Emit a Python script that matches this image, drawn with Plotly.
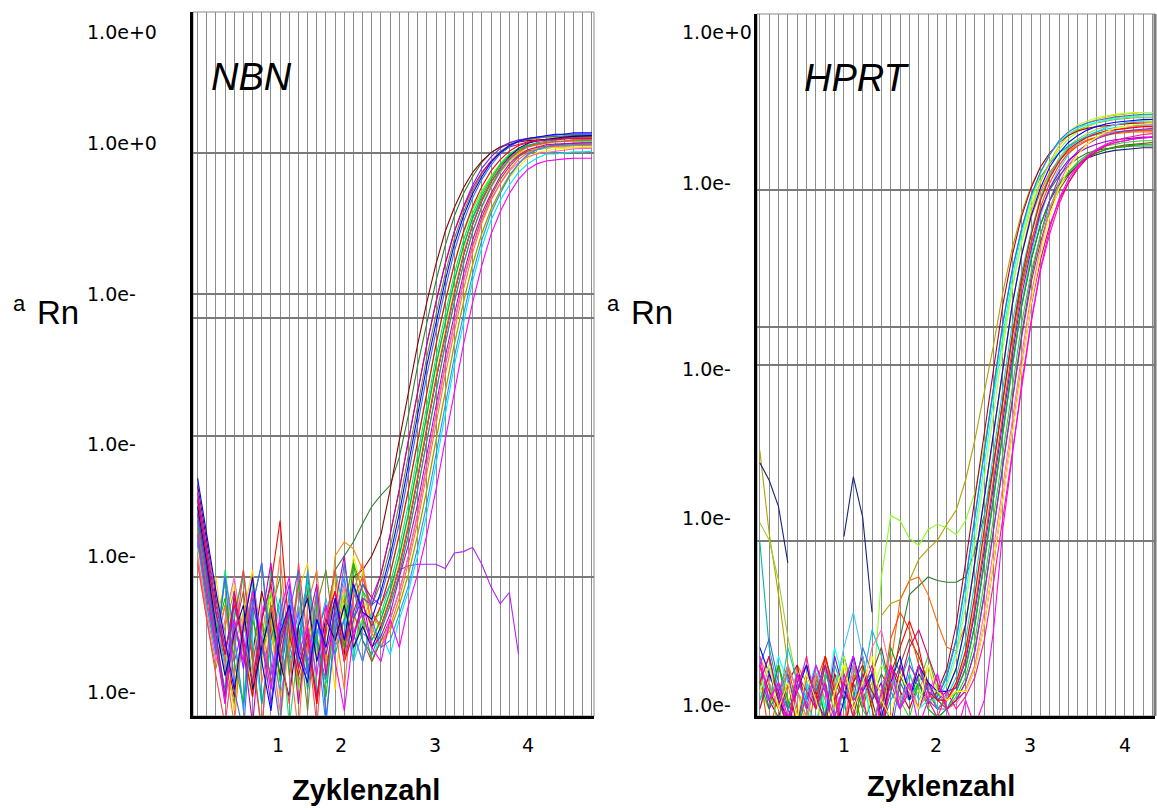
import plotly.graph_objects as go

W, H = 1157, 808

# ---------------- axes / labels ----------------
nbn_cycles = list(range(4, 48))        # 44 cycles plotted in the NBN panel
hprt_cycles = list(range(1, 44))       # 43 cycles plotted in the HPRT panel
nbn_outlier_cycles = list(range(4, 40))

nbn_tick_vals = [12.8, 19.6, 29.9, 40.04]
hprt_tick_vals = [10.03, 19.8, 29.9, 40.05]
x_tick_text = ["1", "2", "3", "4"]

nbn_grid_vals = [-3.0, -2.0, -1.16, -0.99, 0.01]
hprt_grid_vals = [-1.994, -0.994, -0.778, 0.0]

nbn_ylabel_vals = [0.865, 0.078, -0.993, -2.057, -2.851, -3.816]
nbn_ylabel_text = ["1.0e+0", "1.0e+0", "1.0e-", "1.0e-", "1.0e-", "1.0e-"]
hprt_ylabel_vals = [0.898, 0.04, -1.017, -1.864, -2.926]
hprt_ylabel_text = ["1.0e+0", "1.0e-", "1.0e-", "1.0e-", "1.0e-"]

# ---------------- NBN curves (log10 ΔRn, cycles 4..47) ----------------
nbn_red = [-2.45,-2.85,-3.25,-3.55,-3.15,-3.5,-3.85,-3.3,-3.05,-2.6,-3.4,-3.7,-3.45,-3.9,-3.3,-3.1,-3.6,-3.4,-3.2,-3.35,
           -3.2,-2.98,-2.7,-2.38,-2.03,-1.68,-1.35,-1.05,-0.78,-0.55,-0.37,-0.23,-0.12,-0.04,0.02,0.06,0.08,0.09,0.1,0.11,0.115,0.12,0.12,0.12]
nbn_blue = [-2.3,-2.7,-3.1,-3.45,-3.8,-3.35,-3.0,-3.6,-3.95,-3.4,-3.2,-3.55,-3.75,-3.3,-3.5,-3.15,-3.45,-3.05,-3.25,-3.3,
            -3.1,-2.85,-2.55,-2.2,-1.85,-1.5,-1.2,-0.9,-0.64,-0.44,-0.28,-0.16,-0.06,0.01,0.06,0.09,0.11,0.12,0.13,0.14,0.14,0.15,0.15,0.15]
nbn_green = [-2.6,-3.0,-3.4,-3.15,-3.6,-3.9,-3.3,-3.55,-3.2,-3.75,-3.45,-3.05,-3.65,-3.4,-3.85,-3.2,-3.5,-2.9,-3.3,-3.45,
             -3.3,-3.1,-2.85,-2.55,-2.2,-1.85,-1.5,-1.2,-0.9,-0.65,-0.45,-0.3,-0.18,-0.08,-0.01,0.03,0.06,0.07,0.08,0.09,0.09,0.1,0.1,0.1]
nbn_magenta = [-2.7,-3.1,-3.5,-3.9,-3.3,-3.6,-3.1,-3.45,-3.8,-3.25,-3.0,-3.55,-3.35,-3.7,-3.2,-3.6,-3.95,-3.4,-3.25,-3.5,
               -3.6,-3.3,-3.5,-3.2,-2.98,-2.7,-2.38,-2.03,-1.68,-1.35,-1.05,-0.79,-0.57,-0.41,-0.28,-0.18,-0.11,-0.07,-0.05,-0.04,-0.035,-0.03,-0.03,-0.03]
nbn_cyan = [-2.5,-2.95,-3.35,-3.7,-3.25,-3.0,-3.45,-3.9,-3.5,-3.2,-3.65,-3.3,-3.05,-3.5,-3.75,-3.35,-3.1,-3.55,-3.3,-3.6,
            -3.4,-3.55,-3.3,-3.1,-2.85,-2.55,-2.2,-1.85,-1.5,-1.2,-0.9,-0.66,-0.47,-0.33,-0.22,-0.13,-0.07,-0.03,0.0,0.0,0.01,0.015,0.015,0.02]
nbn_yellow = [-2.8,-3.2,-3.6,-3.3,-3.05,-3.5,-3.8,-3.4,-3.15,-3.6,-3.35,-3.9,-3.45,-3.2,-3.55,-3.0,-3.3,-2.85,-3.1,-3.4,
              -3.5,-3.38,-3.2,-2.98,-2.7,-2.38,-2.03,-1.68,-1.35,-1.05,-0.79,-0.57,-0.4,-0.27,-0.17,-0.09,-0.03,0.01,0.025,0.035,0.04,0.045,0.05,0.05]
nbn_orange = [-2.65,-3.05,-3.45,-3.2,-3.7,-3.4,-3.1,-3.55,-3.3,-3.85,-3.5,-3.2,-3.45,-3.1,-3.6,-2.85,-2.75,-2.8,-2.95,-3.25,
              -3.38,-3.2,-2.98,-2.7,-2.38,-2.03,-1.68,-1.35,-1.05,-0.78,-0.55,-0.38,-0.24,-0.13,-0.05,0.01,0.05,0.065,0.075,0.085,0.09,0.095,0.1,0.1]
nbn_purple = [-2.4,-2.8,-3.2,-3.5,-3.3,-3.65,-3.2,-3.45,-3.9,-3.35,-3.05,-3.5,-3.7,-3.3,-3.55,-3.25,-3.6,-3.3,-3.15,-3.2,
              -2.98,-2.7,-2.38,-2.03,-1.68,-1.35,-1.05,-0.78,-0.55,-0.37,-0.22,-0.1,-0.02,0.04,0.08,0.1,0.11,0.12,0.13,0.135,0.14,0.14,0.14,0.14]
nbn_darkgreen = [-2.55,-2.9,-3.3,-3.6,-3.9,-3.4,-3.15,-3.5,-3.25,-3.7,-3.3,-3.45,-3.1,-3.55,-3.3,-2.95,-2.85,-2.75,-2.62,-2.5,
                 -2.42,-2.35,-2.15,-1.85,-1.5,-1.2,-0.9,-0.65,-0.44,-0.28,-0.16,-0.06,0.01,0.05,0.08,0.095,0.105,0.115,0.12,0.125,0.13,0.13,0.13,0.13]
nbn_brown = [-2.75,-3.15,-3.5,-3.85,-3.4,-3.1,-3.6,-3.3,-3.75,-3.45,-3.2,-3.65,-3.35,-3.9,-3.4,-3.15,-3.5,-3.25,-3.45,-3.6,
             -3.45,-3.3,-3.1,-2.85,-2.55,-2.2,-1.85,-1.5,-1.2,-0.9,-0.65,-0.45,-0.3,-0.18,-0.09,-0.02,0.02,0.045,0.055,0.065,0.07,0.075,0.08,0.08]
nbn_navy = [-2.5,-2.9,-3.35,-3.7,-3.4,-3.2,-3.8,-3.5,-3.25,-3.6,-3.85,-3.35,-3.15,-3.6,-3.3,-3.45,-3.2,-3.5,-3.35,-3.5,
            -3.35,-3.16,-2.93,-2.64,-2.3,-1.96,-1.6,-1.29,-0.99,-0.72,-0.5,-0.33,-0.2,-0.1,-0.02,0.04,0.075,0.095,0.105,0.115,0.12,0.125,0.13,0.13]
nbn_pink = [-2.85,-3.25,-3.6,-3.3,-3.0,-3.45,-3.75,-3.2,-3.5,-3.95,-3.4,-3.1,-3.55,-3.25,-3.7,-3.3,-3.05,-3.4,-3.6,-3.35,
            -3.5,-3.3,-3.1,-2.85,-2.55,-2.2,-1.85,-1.5,-1.2,-0.9,-0.66,-0.47,-0.32,-0.21,-0.12,-0.06,-0.02,0.0,0.01,0.02,0.03,0.035,0.04,0.04]
nbn_lime = [-2.6,-2.95,-3.3,-3.05,-3.5,-3.25,-3.7,-3.4,-3.1,-3.55,-3.3,-3.8,-3.45,-3.2,-3.65,-3.35,-3.1,-3.5,-3.3,-3.4,
            -3.2,-2.98,-2.7,-2.38,-2.03,-1.68,-1.35,-1.05,-0.78,-0.56,-0.39,-0.26,-0.16,-0.08,-0.03,0.01,0.03,0.045,0.055,0.065,0.07,0.075,0.08,0.08]
nbn_maroon = [-2.35,-2.75,-3.15,-3.5,-3.85,-3.3,-3.55,-3.1,-3.4,-3.7,-3.25,-3.5,-3.0,-3.45,-3.75,-3.3,-3.55,-3.0,-2.95,-2.85,
              -2.7,-2.38,-2.03,-1.68,-1.35,-1.05,-0.78,-0.55,-0.38,-0.24,-0.13,-0.05,0.01,0.05,0.07,0.085,0.095,0.1,0.105,0.11,0.11,0.11,0.11,0.11]
nbn_teal = [-2.7,-3.1,-3.45,-3.8,-3.35,-3.6,-3.2,-3.9,-3.45,-3.15,-3.6,-3.35,-3.8,-3.4,-3.2,-3.55,-3.3,-3.05,-3.45,-3.55,
            -3.38,-3.2,-2.98,-2.7,-2.38,-2.03,-1.68,-1.35,-1.05,-0.78,-0.55,-0.37,-0.23,-0.12,-0.04,0.02,0.06,0.08,0.09,0.1,0.11,0.115,0.12,0.12]
nbn_olive = [-2.9,-3.3,-3.65,-3.35,-3.1,-3.55,-3.85,-3.45,-3.2,-3.6,-3.3,-3.75,-3.5,-3.25,-3.6,-3.4,-3.15,-3.5,-3.3,-3.6,
             -3.45,-3.38,-3.2,-2.98,-2.7,-2.38,-2.03,-1.68,-1.35,-1.05,-0.78,-0.56,-0.39,-0.26,-0.15,-0.07,-0.01,0.03,0.045,0.055,0.06,0.065,0.07,0.07]
nbn_sky = [-2.55,-2.95,-3.3,-3.65,-3.2,-3.5,-3.1,-3.4,-3.8,-3.35,-3.55,-3.2,-3.7,-3.45,-3.15,-3.5,-3.3,-3.6,-3.4,-3.45,
           -3.3,-3.1,-2.85,-2.55,-2.2,-1.85,-1.5,-1.2,-0.9,-0.66,-0.46,-0.32,-0.2,-0.11,-0.05,-0.01,0.02,0.03,0.04,0.05,0.05,0.06,0.06,0.06]
nbn_deeppink = [-2.45,-2.85,-3.25,-3.55,-3.2,-3.45,-3.75,-3.3,-3.05,-3.5,-3.2,-3.65,-3.4,-3.85,-3.35,-3.1,-3.45,-3.25,-3.05,-3.15,
                -2.98,-2.7,-2.38,-2.03,-1.68,-1.35,-1.05,-0.78,-0.55,-0.38,-0.24,-0.13,-0.05,0.01,0.05,0.07,0.085,0.095,0.1,0.105,0.11,0.11,0.11,0.11]
nbn_coral = [-2.9,-3.3,-3.7,-4.05,-3.5,-2.95,-3.6,-4.1,-3.2,-3.5,-3.9,-2.9,-3.45,-4.05,-3.3,-2.95,-3.6,-3.15,-3.0,-3.25,
             -3.35,-3.16,-2.93,-2.64,-2.3,-1.96,-1.6,-1.29,-0.99,-0.72,-0.5,-0.33,-0.2,-0.1,-0.03,0.02,0.05,0.07,0.08,0.09,0.09,0.1,0.1,0.1]
nbn_royal = [-2.6,-3.0,-3.5,-3.0,-3.8,-4.1,-3.2,-2.9,-3.6,-4.05,-3.25,-2.95,-3.7,-3.1,-4.0,-3.4,-2.9,-3.3,-3.05,-3.2,
             -3.14,-2.9,-2.62,-2.27,-1.92,-1.57,-1.26,-0.96,-0.69,-0.48,-0.31,-0.18,-0.08,0.0,0.05,0.09,0.11,0.12,0.13,0.135,0.14,0.14,0.14,0.14]
nbn_tangerine = [-2.4,-2.8,-3.1,-3.6,-4.05,-3.3,-3.0,-3.75,-3.4,-2.85,-3.55,-4.1,-3.2,-2.95,-3.65,-3.35,-3.8,-3.1,-2.9,-3.4,
                 -3.5,-3.35,-3.15,-2.9,-2.61,-2.27,-1.92,-1.57,-1.26,-0.96,-0.7,-0.49,-0.33,-0.21,-0.11,-0.04,0.01,0.035,0.05,0.055,0.06,0.06,0.06,0.06]
nbn_spring = [-2.7,-3.15,-3.55,-2.95,-3.45,-3.9,-3.05,-3.65,-2.95,-3.3,-4.05,-3.5,-3.0,-3.85,-3.4,-2.95,-3.25,-3.6,-3.1,-3.3,
              -3.26,-3.05,-2.79,-2.48,-2.13,-1.78,-1.44,-1.14,-0.85,-0.61,-0.42,-0.28,-0.16,-0.07,0.0,0.04,0.06,0.07,0.08,0.085,0.09,0.09,0.09,0.09]
nbn_plum = [-2.55,-2.95,-3.4,-3.85,-3.1,-3.5,-4.05,-3.3,-2.9,-3.6,-3.2,-3.9,-3.35,-3.05,-3.7,-3.2,-2.85,-3.45,-3.15,-3.5,
            -3.42,-3.26,-3.0,-2.77,-2.48,-2.13,-1.78,-1.44,-1.14,-0.85,-0.61,-0.42,-0.28,-0.16,-0.07,-0.01,0.03,0.05,0.065,0.07,0.075,0.08,0.08,0.08]
nbn_olivedrab = [-2.65,-3.05,-3.45,-3.9,-3.3,-2.95,-3.55,-4.1,-3.25,-3.0,-3.7,-3.35,-3.95,-3.2,-2.95,-3.45,-3.2,-2.9,-3.1,-3.2,
                 -3.04,-2.79,-2.48,-2.13,-1.78,-1.44,-1.14,-0.85,-0.6,-0.41,-0.26,-0.14,-0.05,0.02,0.06,0.09,0.105,0.115,0.12,0.12,0.12,0.12,0.12,0.12]
nbn_gold = [-2.85,-3.25,-3.0,-3.5,-3.95,-3.25,-2.95,-3.6,-3.3,-4.05,-3.45,-3.1,-2.9,-3.55,-3.25,-3.8,-3.05,-3.35,-2.95,-3.4,
            -3.34,-3.14,-2.9,-2.61,-2.27,-1.92,-1.57,-1.26,-0.96,-0.7,-0.49,-0.34,-0.22,-0.12,-0.05,0.0,0.03,0.04,0.045,0.05,0.05,0.05,0.05,0.05]
nbn_dodger = [-2.75,-3.2,-3.55,-3.0,-3.4,-3.95,-3.2,-2.9,-3.5,-3.8,-3.1,-3.6,-2.95,-3.45,-4.05,-3.3,-3.0,-3.4,-3.6,-3.3,
              -3.5,-3.45,-3.26,-3.06,-2.79,-2.48,-2.13,-1.78,-1.44,-1.14,-0.85,-0.61,-0.42,-0.28,-0.16,-0.07,0.0,0.03,0.05,0.06,0.065,0.07,0.07,0.07]
nbn_violet_outlier = [-2.75,-3.1,-3.5,-3.2,-3.6,-3.35,-3.0,-3.45,-3.7,-3.3,-3.55,-3.25,-3.6,-3.4,-3.2,-3.45,-3.3,-3.05,-3.3,-3.15,-3.2,-3.05,-2.95,-2.92,
                      -2.91,-2.91,-2.91,-2.94,-2.83,-2.82,-2.79,-2.91,-3.07,-3.19,-3.11,-3.55]

# ---------------- HPRT curves (log10 ΔRn, cycles 1..43) ----------------
hprt_red = [-2.7,-2.85,-2.95,-2.8,-3.05,-2.75,-2.9,-2.65,-2.85,-3.1,-2.8,-2.7,-2.95,-3.15,-2.75,-2.6,-2.45,-2.6,-2.85,-2.9,
            -2.9,-2.8,-2.62,-2.3,-1.93,-1.56,-1.19,-0.82,-0.5,-0.26,-0.06,0.07,0.16,0.23,0.27,0.3,0.32,0.335,0.343,0.35,0.355,0.36,0.36]
hprt_blue = [-2.6,-2.75,-2.9,-3.0,-2.85,-2.7,-2.95,-2.8,-3.1,-2.9,-2.65,-2.85,-2.75,-3.0,-2.8,-2.65,-2.9,-2.7,-2.8,-2.85,
             -2.85,-2.72,-2.47,-2.12,-1.75,-1.38,-1.0,-0.65,-0.37,-0.15,0.01,0.13,0.21,0.27,0.31,0.34,0.36,0.375,0.385,0.39,0.395,0.4,0.4]
hprt_green = [-2.8,-2.95,-2.7,-2.9,-3.1,-2.85,-2.75,-3.0,-2.8,-2.9,-3.2,-2.7,-2.85,-2.95,-2.6,-2.75,-2.9,-2.8,-2.95,-3.0,-2.95,
              -2.85,-2.72,-2.47,-2.12,-1.75,-1.38,-1.0,-0.66,-0.4,-0.2,-0.06,0.04,0.1,0.15,0.19,0.21,0.23,0.24,0.25,0.255,0.26,0.26]
hprt_magenta = [-2.65,-2.9,-2.8,-3.05,-2.75,-2.95,-2.7,-2.85,-3.0,-2.8,-2.65,-2.9,-3.1,-2.85,-2.7,-2.95,-2.8,-3.05,-2.9,-2.75,-2.95,-3.1,-2.9,-3.05,
                -2.9,-2.5,-1.92,-1.5,-1.1,-0.75,-0.45,-0.22,-0.05,0.06,0.14,0.19,0.23,0.255,0.27,0.28,0.29,0.295,0.3]
hprt_cyan = [-2.75,-2.9,-2.65,-2.8,-3.0,-2.85,-2.7,-2.95,-2.6,-2.8,-2.9,-2.75,-3.05,-2.85,-2.7,-2.9,-2.8,-2.95,-2.9,
             -2.9,-2.8,-2.62,-2.3,-1.93,-1.56,-1.19,-0.82,-0.5,-0.25,-0.04,0.1,0.2,0.27,0.32,0.35,0.37,0.385,0.395,0.405,0.41,0.415,0.42,0.42]
hprt_yellow = [-2.85,-2.7,-2.95,-2.8,-3.0,-2.75,-2.9,-3.1,-2.85,-2.7,-2.95,-2.8,-2.65,-2.9,-3.0,-2.75,-2.85,-2.95,-2.7,-2.85,-2.9,-2.85,
               -2.85,-2.72,-2.47,-2.12,-1.75,-1.38,-1.0,-0.65,-0.37,-0.15,0.01,0.12,0.2,0.26,0.3,0.33,0.35,0.36,0.37,0.375,0.38]
hprt_orange = [-2.9,-2.75,-2.85,-3.05,-2.7,-2.8,-2.95,-2.65,-2.85,-2.75,-3.0,-2.9,-2.8,-2.85,-2.7,-2.33,-2.22,-2.2,-2.3,-2.46,
               -2.6,-2.62,-2.47,-2.12,-1.75,-1.38,-1.0,-0.65,-0.37,-0.16,-0.01,0.1,0.17,0.22,0.26,0.285,0.3,0.31,0.32,0.325,0.33,0.33,0.33]
hprt_purple = [-2.7,-2.95,-2.85,-2.75,-3.0,-2.9,-2.7,-2.85,-3.1,-2.8,-2.65,-2.9,-2.75,-3.05,-2.85,-2.95,-2.7,-2.8,-2.9,-2.95,-2.95,
               -2.9,-2.8,-2.62,-2.3,-1.93,-1.56,-1.19,-0.82,-0.5,-0.26,-0.06,0.07,0.16,0.22,0.26,0.29,0.31,0.325,0.335,0.34,0.345,0.35]
hprt_darkgreen = [-2.8,-2.9,-2.7,-2.95,-2.85,-3.0,-2.75,-2.9,-2.8,-2.65,-2.85,-3.05,-2.9,-2.75,-2.85,-2.55,-2.3,-2.25,-2.2,-2.22,
                  -2.23,-2.23,-2.2,-2.05,-1.85,-1.56,-1.19,-0.84,-0.53,-0.3,-0.12,0.0,0.08,0.14,0.18,0.21,0.225,0.235,0.24,0.245,0.25,0.25,0.25]
hprt_maroon = [-2.75,-2.9,-3.0,-2.8,-2.7,-2.95,-2.85,-3.05,-2.75,-2.9,-2.8,-2.65,-2.9,-3.1,-2.7,-2.85,-2.95,-2.8,
               -2.92,-2.85,-2.72,-2.47,-2.12,-1.75,-1.38,-1.0,-0.65,-0.37,-0.15,0.01,0.13,0.21,0.27,0.31,0.335,0.35,0.36,0.365,0.37,0.375,0.38,0.38,0.38]
hprt_navy = [-1.55,-1.65,-1.8,-2.12,None,None,None,None,None,-1.97,-1.63,-1.86,-2.4,None,None,None,-2.9,-2.75,-2.85,-2.95,-2.9,
             -2.85,-2.72,-2.47,-2.12,-1.75,-1.38,-1.0,-0.66,-0.4,-0.2,-0.06,0.03,0.09,0.14,0.18,0.2,0.215,0.225,0.23,0.235,0.24,0.24]
hprt_pink = [-2.65,-2.8,-2.95,-2.7,-2.85,-3.0,-2.75,-2.9,-2.8,-3.05,-2.7,-2.85,-2.6,-2.5,-2.75,-2.9,-2.8,-2.95,-2.85,-2.75,-2.95,
             -2.92,-2.84,-2.7,-2.4,-2.05,-1.68,-1.31,-0.94,-0.6,-0.33,-0.11,0.04,0.14,0.21,0.26,0.3,0.32,0.34,0.35,0.36,0.365,0.37]
hprt_lime = [-2.85,-2.95,-2.7,-2.9,-3.0,-2.8,-2.75,-2.95,-2.85,-2.7,-2.9,-2.8,
             -2.95,-2.2,-1.85,-1.88,-1.98,-2.02,-1.93,-1.9,-1.92,-1.96,-1.88,-1.72,-1.45,-1.15,-0.85,-0.55,-0.3,-0.1,0.05,0.15,0.23,0.29,0.33,0.36,0.38,0.4,0.41,0.415,0.42,0.425,0.43]
hprt_olive = [-1.48,-1.95,-2.3,-2.7,-3.1,None,None,None,None,None,None,None,None,
              -2.42,-2.35,-2.33,-2.22,-2.1,-2.04,-1.99,-1.9,-1.82,-1.65,-1.42,-1.15,-0.88,-0.58,-0.33,-0.13,0.02,0.13,0.21,0.27,0.31,0.34,0.36,0.38,0.39,0.4,0.405,0.41,0.41,0.41]
hprt_teal = [-2.0,-2.6,-2.85,-2.95,-2.75,-2.9,-2.8,-3.0,-2.7,-2.85,-2.95,-2.8,-2.75,-3.05,-2.9,-2.8,-2.65,-2.85,-2.9,
             -2.88,-2.75,-2.55,-2.22,-1.86,-1.49,-1.12,-0.76,-0.46,-0.22,-0.04,0.07,0.15,0.21,0.25,0.28,0.3,0.315,0.325,0.33,0.335,0.34,0.34,0.34]
hprt_sky = [-2.9,-2.7,-2.85,-2.75,-3.0,-2.8,-2.95,-2.7,-2.85,-2.6,-2.4,-2.65,-2.9,-2.8,-2.75,-2.95,-2.85,-2.7,-2.9,-3.0,-2.95,
            -2.85,-2.72,-2.47,-2.12,-1.75,-1.38,-1.0,-0.65,-0.37,-0.15,0.01,0.12,0.2,0.26,0.3,0.33,0.355,0.37,0.38,0.39,0.395,0.4]
hprt_deeppink = [-2.8,-2.65,-2.9,-3.05,-2.75,-2.85,-2.95,-2.7,-2.9,-2.8,-3.0,-2.75,-2.85,-2.95,-2.7,-2.8,-2.6,-2.5,-2.65,-2.8,-2.95,-2.9,
                 -2.85,-2.72,-2.47,-2.12,-1.75,-1.38,-1.0,-0.66,-0.4,-0.2,-0.06,0.04,0.12,0.18,0.22,0.25,0.27,0.28,0.29,0.295,0.3]
hprt_gold = [-2.95,-2.8,-2.7,-2.9,-2.85,-3.05,-2.75,-2.8,-2.95,-2.7,-2.85,-2.9,-2.8,-3.0,-2.75,-2.85,-2.9,-2.8,-2.95,-2.85,
             -2.85,-2.72,-2.47,-2.12,-1.75,-1.38,-1.0,-0.65,-0.36,-0.13,0.04,0.16,0.25,0.31,0.35,0.38,0.4,0.415,0.425,0.43,0.435,0.44,0.44]
hprt_yellowgreen = [-1.89,-1.99,-2.22,-2.54,-2.8,-2.9,-2.75,-2.85,-3.0,-2.8,-2.7,-2.9,-2.85,-2.95,-2.75,-2.8,-2.9,-2.85,-2.7,-2.9,
                    -2.9,-2.8,-2.62,-2.3,-1.93,-1.56,-1.19,-0.82,-0.5,-0.25,-0.04,0.09,0.18,0.25,0.29,0.32,0.345,0.36,0.37,0.38,0.385,0.39,0.39]
hprt_orangered = [-2.75,-3.1,-2.85,-2.7,-2.95,-3.15,-2.8,-2.65,-2.9,-3.05,-2.75,-2.85,-3.2,-2.9,-2.55,-2.4,-2.5,-2.7,-2.85,-2.95,-2.9,
                  -2.82,-2.66,-2.37,-2.01,-1.64,-1.27,-0.9,-0.56,-0.31,-0.1,0.04,0.14,0.21,0.25,0.28,0.3,0.315,0.325,0.33,0.335,0.34,0.34]
hprt_royal = [-2.7,-2.55,-2.8,-2.95,-3.1,-2.75,-2.85,-2.7,-3.0,-2.8,-2.9,-2.6,-2.75,-2.95,-3.1,-2.8,-2.9,-2.7,-2.85,
              -2.88,-2.77,-2.56,-2.23,-1.86,-1.49,-1.12,-0.75,-0.45,-0.22,-0.03,0.1,0.2,0.28,0.33,0.36,0.38,0.395,0.405,0.415,0.42,0.425,0.43,0.43]
hprt_limegreen = [-2.9,-2.8,-3.05,-2.7,-2.85,-2.95,-3.1,-2.75,-2.9,-2.8,-2.7,-2.95,-3.05,-2.85,-2.75,-2.9,-3.0,-2.8,-2.65,-2.85,-2.95,
                  -2.88,-2.77,-2.56,-2.23,-1.86,-1.49,-1.12,-0.76,-0.47,-0.26,-0.1,0.02,0.1,0.16,0.2,0.23,0.25,0.26,0.27,0.275,0.28,0.28]
hprt_rose = [-2.7,-2.9,-2.8,-3.0,-2.85,-2.65,-2.95,-2.8,-3.1,-2.75,-2.9,-2.85,-2.7,-3.05,-2.8,-2.95,-2.85,-2.7,-2.9,-3.0,-2.85,-2.95,
             -2.88,-2.77,-2.56,-2.23,-1.86,-1.49,-1.12,-0.76,-0.46,-0.25,-0.08,0.04,0.13,0.19,0.23,0.26,0.28,0.295,0.305,0.315,0.32]
hprt_turquoise = [-2.85,-2.7,-2.95,-2.6,-2.8,-2.9,-3.05,-2.75,-2.85,-2.95,-2.7,-2.8,-2.5,-2.65,-2.85,-2.95,-2.75,-2.9,-2.8,-2.95,
                  -2.88,-2.77,-2.56,-2.23,-1.86,-1.49,-1.12,-0.76,-0.47,-0.24,-0.05,0.08,0.17,0.24,0.28,0.31,0.33,0.345,0.355,0.36,0.365,0.37,0.37]
hprt_darkviolet = [-2.95,-2.75,-2.85,-3.1,-2.8,-2.7,-2.9,-3.0,-2.65,-2.85,-2.95,-2.75,-2.9,-2.8,-3.05,-2.7,-2.85,-2.95,-2.8,-2.9,-2.85,
                   -2.83,-2.68,-2.4,-2.05,-1.68,-1.31,-0.94,-0.6,-0.34,-0.13,0.01,0.1,0.17,0.21,0.24,0.26,0.275,0.285,0.29,0.295,0.3,0.3]
hprt_greenyellow = [-2.6,-2.8,-2.95,-2.7,-2.85,-3.0,-2.75,-2.9,-2.8,-2.65,-2.9,-3.05,-2.85,-2.7,-2.8,-2.95,-2.75,-2.85,-2.9,-2.8,
                    -2.82,-2.66,-2.37,-2.01,-1.64,-1.27,-0.9,-0.56,-0.29,-0.07,0.09,0.2,0.28,0.33,0.37,0.39,0.41,0.42,0.43,0.435,0.44,0.44,0.44]
hprt_saddle = [-2.8,-2.65,-2.9,-3.05,-2.75,-2.95,-2.85,-2.7,-2.9,-3.1,-2.8,-2.95,-2.75,-2.6,-2.85,-2.7,-2.55,-2.65,-2.8,-2.9,-2.95,
               -2.9,-2.8,-2.62,-2.3,-1.93,-1.56,-1.19,-0.84,-0.53,-0.3,-0.12,0.0,0.08,0.14,0.18,0.21,0.23,0.245,0.255,0.26,0.265,0.27]

nbn_series = [
    ("violet", "#b020ff", nbn_outlier_cycles, nbn_violet_outlier),
    ("darkgreen", "#2e7d32", nbn_cycles, nbn_darkgreen),
    ("maroon", "#8b0000", nbn_cycles, nbn_maroon),
    ("yellow", "#f0f000", nbn_cycles, nbn_yellow),
    ("cyan", "#00e5ff", nbn_cycles, nbn_cyan),
    ("olive", "#9a9a00", nbn_cycles, nbn_olive),
    ("spring", "#00e676", nbn_cycles, nbn_spring),
    ("lime", "#66ee00", nbn_cycles, nbn_lime),
    ("orange", "#ff8c00", nbn_cycles, nbn_orange),
    ("sky", "#3fa9ff", nbn_cycles, nbn_sky),
    ("brown", "#a0522d", nbn_cycles, nbn_brown),
    ("gold", "#ffd000", nbn_cycles, nbn_gold),
    ("pink", "#ff5fc8", nbn_cycles, nbn_pink),
    ("teal", "#00a0a0", nbn_cycles, nbn_teal),
    ("olivedrab", "#6b8e23", nbn_cycles, nbn_olivedrab),
    ("green", "#00c000", nbn_cycles, nbn_green),
    ("tangerine", "#ff7030", nbn_cycles, nbn_tangerine),
    ("purple", "#7b1fff", nbn_cycles, nbn_purple),
    ("dodger", "#1e90ff", nbn_cycles, nbn_dodger),
    ("red", "#ff0000", nbn_cycles, nbn_red),
    ("plum", "#c000c0", nbn_cycles, nbn_plum),
    ("navy", "#000090", nbn_cycles, nbn_navy),
    ("coral", "#ff4050", nbn_cycles, nbn_coral),
    ("deeppink", "#e0006e", nbn_cycles, nbn_deeppink),
    ("royal", "#4169e1", nbn_cycles, nbn_royal),
    ("magenta", "#ff00ff", nbn_cycles, nbn_magenta),
    ("blue", "#0000ff", nbn_cycles, nbn_blue),
]

hprt_series = [
    ("olive", "#b8a000", hprt_olive),
    ("lime", "#88ff22", hprt_lime),
    ("navy", "#1a237e", hprt_navy),
    ("yellowgreen", "#9acd32", hprt_yellowgreen),
    ("darkgreen", "#2e7d32", hprt_darkgreen),
    ("orange", "#ff6a00", hprt_orange),
    ("saddle", "#8b4513", hprt_saddle),
    ("teal", "#00b3b3", hprt_teal),
    ("gold", "#e0c000", hprt_gold),
    ("maroon", "#b00020", hprt_maroon),
    ("greenyellow", "#adff2f", hprt_greenyellow),
    ("sky", "#40c8ff", hprt_sky),
    ("green", "#00b000", hprt_green),
    ("orangered", "#ff4500", hprt_orangered),
    ("purple", "#8a2be2", hprt_purple),
    ("turquoise", "#00ced1", hprt_turquoise),
    ("cyan", "#00ffff", hprt_cyan),
    ("limegreen", "#32cd32", hprt_limegreen),
    ("pink", "#ff69b4", hprt_pink),
    ("darkviolet", "#9400d3", hprt_darkviolet),
    ("red", "#ff0000", hprt_red),
    ("royal", "#4169e1", hprt_royal),
    ("blue", "#0000ff", hprt_blue),
    ("rose", "#ff1493", hprt_rose),
    ("deeppink", "#e0006e", hprt_deeppink),
    ("yellow", "#ffff00", hprt_yellow),
    ("magenta", "#ff00ff", hprt_magenta),
]

fig = go.Figure()

for name, color, xs, ys in nbn_series:
    assert len(xs) == len(ys), ("NBN", name, len(ys))
    fig.add_trace(go.Scatter(x=xs, y=ys, mode="lines", name=name,
                             line=dict(color=color, width=1.1),
                             xaxis="x", yaxis="y", showlegend=False,
                             connectgaps=False, hoverinfo="skip"))

for name, color, ys in hprt_series:
    assert len(ys) == len(hprt_cycles), ("HPRT", name, len(ys))
    fig.add_trace(go.Scatter(x=hprt_cycles, y=ys, mode="lines", name=name,
                             line=dict(color=color, width=1.1),
                             xaxis="x2", yaxis="y2", showlegend=False,
                             connectgaps=False, hoverinfo="skip"))

def px_x(x):
    return x / W

def px_y(y):
    return 1 - y / H

vgrid = "#8c8c8c"
hgrid = "#7a7a7a"

common_x = dict(tickmode="linear", tick0=0, dtick=1, showgrid=True, gridcolor=vgrid,
                gridwidth=1.4, showticklabels=False, ticks="", zeroline=False,
                showline=True, linecolor="black", linewidth=3)
common_y = dict(tickmode="array", showgrid=True, gridcolor=hgrid, gridwidth=2,
                showticklabels=False, ticks="", zeroline=False,
                showline=True, linecolor="black", linewidth=3)

fig.update_layout(
    width=W, height=H,
    margin=dict(l=0, r=0, t=0, b=0),
    paper_bgcolor="white", plot_bgcolor="white",
    showlegend=False,
    xaxis=dict(domain=[px_x(193), px_x(594)], range=[3.5, 47.23], anchor="y", **common_x),
    yaxis=dict(domain=[px_y(716), px_y(12)], range=[-3.986, 1.007], anchor="x",
               tickvals=nbn_grid_vals, **common_y),
    xaxis2=dict(domain=[px_x(757), px_x(1155)], range=[0.70, 43.26], anchor="y2", **common_x),
    yaxis2=dict(domain=[px_y(716), px_y(14)], range=[-2.99, 1.0], anchor="x2",
                tickvals=hprt_grid_vals, **common_y),
)

shapes = [
    dict(type="rect", xref="x domain", yref="y domain", x0=0, x1=1, y0=0, y1=1,
         line=dict(color="#8a8a8a", width=1), layer="below"),
    dict(type="rect", xref="x2 domain", yref="y2 domain", x0=0, x1=1, y0=0, y1=1,
         line=dict(color="#8a8a8a", width=1), layer="below"),
    dict(type="line", xref="x2 domain", yref="y2 domain", x0=1, x1=1, y0=0, y1=1,
         line=dict(color="#7a7a7a", width=3), layer="above"),
]
fig.update_layout(shapes=shapes)

tick_font = dict(family="DejaVu Sans", size=19, color="black")
ann = []
for v, t in zip(nbn_ylabel_vals, nbn_ylabel_text):
    ann.append(dict(x=px_x(85), xref="paper", y=v, yref="y", text=t, showarrow=False,
                    xanchor="left", yanchor="middle", font=tick_font))
for v, t in zip(hprt_ylabel_vals, hprt_ylabel_text):
    ann.append(dict(x=px_x(680), xref="paper", y=v, yref="y2", text=t, showarrow=False,
                    xanchor="left", yanchor="middle", font=tick_font))
for v, t in zip(nbn_tick_vals, x_tick_text):
    ann.append(dict(x=v, xref="x", y=px_y(745), yref="paper", text=t, showarrow=False,
                    xanchor="center", yanchor="middle", font=tick_font))
for v, t in zip(hprt_tick_vals, x_tick_text):
    ann.append(dict(x=v, xref="x2", y=px_y(745), yref="paper", text=t, showarrow=False,
                    xanchor="center", yanchor="middle", font=tick_font))

title_font = dict(family="Liberation Sans", size=29, color="black")
ann.append(dict(x=px_x(366), y=px_y(790), xref="paper", yref="paper", text="<b>Zyklenzahl</b>",
                showarrow=False, xanchor="center", yanchor="middle", font=title_font))
ann.append(dict(x=px_x(941), y=px_y(786), xref="paper", yref="paper", text="<b>Zyklenzahl</b>",
                showarrow=False, xanchor="center", yanchor="middle", font=title_font))

gene_font = dict(family="Liberation Sans", size=38, color="black")
ann.append(dict(x=px_x(209), y=px_y(77), xref="paper", yref="paper", text="<i>NBN</i>",
                showarrow=False, xanchor="left", yanchor="middle", font=gene_font))
ann.append(dict(x=px_x(802), y=px_y(78), xref="paper", yref="paper", text="<i>HPRT</i>",
                showarrow=False, xanchor="left", yanchor="middle", font=gene_font))

rn_font = dict(family="Liberation Sans", size=33, color="black")
a_font = dict(family="Liberation Sans", size=22, color="black")
for ax_x, rn_x in ((19, 58), (613, 652)):
    ann.append(dict(x=px_x(ax_x), y=px_y(303), xref="paper", yref="paper", text="a",
                    showarrow=False, xanchor="center", yanchor="middle", font=a_font))
    ann.append(dict(x=px_x(rn_x), y=px_y(312), xref="paper", yref="paper", text="Rn",
                    showarrow=False, xanchor="center", yanchor="middle", font=rn_font))

fig.update_layout(annotations=ann)

fig.write_html("out.html", config={"displayModeBar": False},
               post_script="document.body.style.margin='0';")
